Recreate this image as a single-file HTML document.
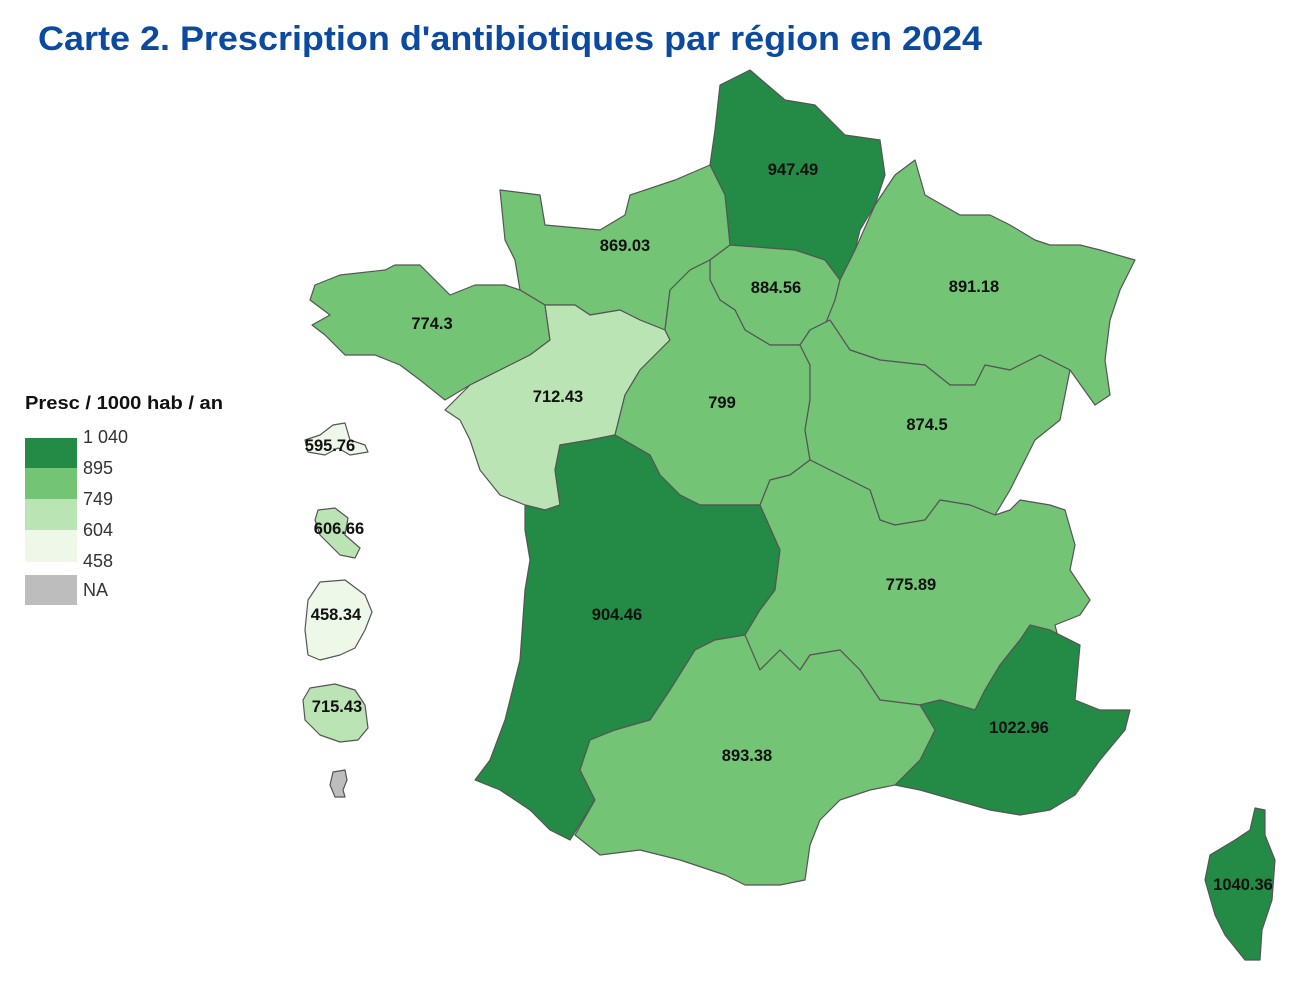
<!DOCTYPE html>
<html><head><meta charset="utf-8"><style>
body{margin:0;background:#fff;width:1300px;height:989px;overflow:hidden;font-family:"Liberation Sans",Arial,sans-serif}
</style></head><body>
<svg width="1300" height="989" viewBox="0 0 1300 989" xmlns="http://www.w3.org/2000/svg">
<text x="38" y="50" font-family="Liberation Sans,Arial,sans-serif" font-weight="bold" font-size="34" textLength="944" lengthAdjust="spacingAndGlyphs" fill="#0b4a9e">Carte 2. Prescription d'antibiotiques par région en 2024</text>
<g stroke="#555" stroke-width="1.2" stroke-linejoin="round">
<polygon fill="#238b45" points="720,85 750,70 785,100 815,105 845,135 880,140 885,175 875,205 860,230 855,250 840,280 825,260 795,250 730,245 725,195 710,165 715,130"/>
<polygon fill="#74c476" points="500,190 540,195 545,225 600,230 625,215 630,195 675,180 710,165 725,195 730,245 710,260 690,270 670,290 665,330 640,320 620,310 590,315 575,305 545,305 520,290 515,260 505,240"/>
<polygon fill="#74c476" points="315,285 340,275 385,270 395,265 420,265 450,295 475,285 505,285 520,290 545,305 550,340 530,355 500,370 470,385 445,400 420,380 400,365 375,355 345,355 325,335 312,325 330,315 310,300"/>
<polygon fill="#bae4b3" points="545,305 575,305 590,315 620,310 640,320 665,330 670,340 640,370 625,395 615,435 590,440 560,445 555,470 560,505 545,510 525,505 500,495 480,470 470,440 460,420 445,410 470,385 500,370 530,355 550,340"/>
<polygon fill="#74c476" points="710,260 730,245 795,250 825,260 840,280 835,300 830,320 810,330 800,345 770,345 745,330 735,310 720,300 710,280"/>
<polygon fill="#74c476" points="875,205 895,175 915,160 925,195 960,215 990,215 1010,225 1035,240 1050,245 1080,245 1100,250 1135,260 1120,290 1110,320 1105,360 1110,395 1095,405 1070,370 1040,355 1010,370 985,365 975,385 950,385 925,365 880,360 850,350 825,325 835,300 840,280 855,250"/>
<polygon fill="#74c476" points="670,290 690,270 710,260 710,280 720,300 735,310 745,330 770,345 800,345 810,365 810,400 805,430 810,460 790,475 770,480 760,505 700,505 680,495 660,475 650,455 615,435 625,395 640,370 670,340 665,330"/>
<polygon fill="#74c476" points="800,345 810,330 830,320 850,350 880,360 925,365 950,385 975,385 985,365 1010,370 1040,355 1070,370 1060,420 1035,440 1020,470 1010,490 995,515 970,505 940,500 925,520 895,525 880,520 870,490 850,480 830,470 810,460 805,430 810,400 810,365"/>
<polygon fill="#238b45" points="560,445 590,440 615,435 650,455 660,475 680,495 700,505 760,505 780,550 775,590 760,610 745,635 715,640 695,650 670,690 650,720 615,730 590,740 580,770 595,800 570,840 550,830 530,810 500,790 475,780 490,760 505,720 520,660 525,590 530,560 525,530 525,505 545,510 560,505 555,470"/>
<polygon fill="#74c476" points="760,505 770,480 790,475 810,460 830,470 850,480 870,490 880,520 895,525 925,520 940,500 970,505 995,515 1010,510 1020,500 1050,505 1065,510 1075,545 1070,570 1090,600 1080,615 1055,625 1060,645 1020,640 1000,665 985,690 975,710 940,700 920,705 880,700 860,670 840,650 810,655 800,670 780,650 760,670 745,640 745,635 760,610 775,590 780,550"/>
<polygon fill="#238b45" points="975,710 985,690 1000,665 1020,640 1030,625 1050,630 1080,645 1075,700 1100,710 1130,710 1125,730 1100,760 1075,795 1050,810 1020,815 990,810 955,800 920,790 895,785 920,760 935,730 920,705 940,700"/>
<polygon fill="#74c476" points="595,800 580,770 590,740 615,730 650,720 670,690 695,650 715,640 745,635 760,670 780,650 800,670 810,655 840,650 860,670 880,700 920,705 935,730 920,760 895,785 870,790 840,800 820,820 810,845 805,880 780,885 745,885 725,875 680,860 640,850 600,855 575,835"/>
<polygon fill="#238b45" points="1255,808 1265,810 1265,835 1275,860 1272,900 1262,930 1260,960 1245,960 1225,935 1215,915 1205,880 1210,855 1235,840 1250,830"/>
<polygon fill="#edf8e9" points="333,425 345,423 350,440 365,445 368,452 350,455 338,448 325,455 308,452 305,440 320,435"/>
<polygon fill="#bae4b3" points="318,510 335,508 348,518 345,535 360,548 355,558 340,555 330,545 320,535 315,520"/>
<polygon fill="#edf8e9" points="320,582 345,580 365,595 372,612 365,630 355,648 340,655 320,660 308,655 305,630 308,600"/>
<polygon fill="#bae4b3" points="310,688 335,684 355,690 365,705 368,728 358,740 340,742 320,735 305,720 303,700"/>
<polygon fill="#bdbdbd" points="333,772 345,770 347,780 343,790 345,797 335,797 330,785"/>
</g>
<g font-family="Liberation Sans,Arial,sans-serif" font-weight="bold" font-size="16.5" fill="#111" text-anchor="middle">
<text x="793" y="175">947.49</text>
<text x="625" y="251">869.03</text>
<text x="432" y="329">774.3</text>
<text x="776" y="293">884.56</text>
<text x="974" y="292">891.18</text>
<text x="558" y="402">712.43</text>
<text x="722" y="408">799</text>
<text x="927" y="430">874.5</text>
<text x="617" y="620">904.46</text>
<text x="911" y="590">775.89</text>
<text x="1019" y="733">1022.96</text>
<text x="747" y="761">893.38</text>
<text x="1243" y="890">1040.36</text>
<text x="330" y="451">595.76</text>
<text x="339" y="534">606.66</text>
<text x="336" y="620">458.34</text>
<text x="337" y="712">715.43</text>
</g>
<text x="25" y="409" font-family="Liberation Sans,Arial,sans-serif" font-weight="bold" font-size="18" textLength="198" lengthAdjust="spacingAndGlyphs" fill="#111">Presc / 1000 hab / an</text>
<rect x="25" y="438" width="52" height="30" fill="#238b45"/>
<rect x="25" y="468" width="52" height="31" fill="#74c476"/>
<rect x="25" y="499" width="52" height="31" fill="#bae4b3"/>
<rect x="25" y="530" width="52" height="32" fill="#edf8e9"/>
<rect x="25" y="575" width="52" height="30" fill="#bdbdbd"/>
<g font-family="Liberation Sans,Arial,sans-serif" font-size="18" fill="#333">
<text x="83" y="443">1 040</text>
<text x="83" y="474">895</text>
<text x="83" y="505">749</text>
<text x="83" y="536">604</text>
<text x="83" y="567">458</text>
<text x="83" y="596">NA</text>
</g>
</svg>
</body></html>
